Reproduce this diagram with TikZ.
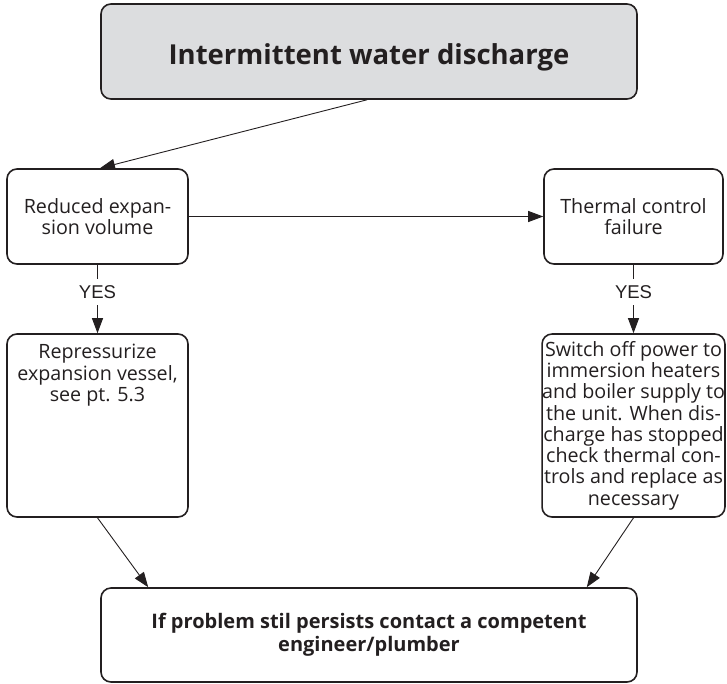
\documentclass[tikz,border=0pt]{standalone}
\usepackage{fontspec}
\setmainfont{Open Sans}
\newfontfamily\yesfont{Liberation Sans}
\usetikzlibrary{arrows.meta}
\definecolor{ink}{HTML}{231F20}
\definecolor{titlegray}{HTML}{DCDDDF}
\tikzset{
  box/.style={draw=ink, line width=1.6pt, rounded corners=10pt, minimum width=181pt, inner sep=0pt, align=center, text=ink},
  bodytext/.style={font=\fontsize{19.7}{21.3}\selectfont},
  conn/.style={draw=ink, line width=0.9pt, -{Triangle[length=15pt,width=11pt]}},
  yeslabel/.style={fill=white, inner xsep=1pt, inner ysep=6.5pt, text=ink, font=\yesfont\fontsize{18.5}{20}\selectfont, text depth=0pt}
}
\begin{document}
\begin{tikzpicture}[x=1pt,y=-1pt]
\useasboundingbox (0,0) rectangle (727,683);
\node[box, fill=titlegray, minimum width=536pt, minimum height=95pt, font=\fontsize{27.5}{30}\selectfont\bfseries, text height=25pt, text depth=0pt] (title) at (369,51.5) {Intermittent water discharge};
\node[box, bodytext, minimum height=95pt] (l1) at (97.5,216.5) {Reduced expan-\\sion volume};
\node[box, bodytext, minimum height=95pt, minimum width=179pt] (r1) at (633.5,216.5) {Thermal control\\failure};
\node[box, minimum height=183pt] (l2) at (97.5,425.5) {};
\node[bodytext, anchor=north, align=center, text=ink, inner sep=0pt] (l2t) at ([yshift=-11pt]l2.north) {Repressurize\\expansion vessel,\\see pt. 5.3};
\node[box, bodytext, minimum height=183pt, minimum width=179pt] (r2) at (633.5,425.5) {Switch off power to\\immersion heaters\\and boiler supply to\\the unit. When dis-\\charge has stopped\\check thermal con-\\trols and replace as\\necessary};
\node[box, minimum width=536pt, minimum height=94pt, font=\fontsize{20}{23}\selectfont\bfseries] (b) at (369,635) {If problem stil persists contact a competent\\engineer/plumber};
\draw[conn] ([xshift=-2pt]title.south) -- ([xshift=2.5pt]l1.north);
\draw[conn] (l1.east) -- (r1.west);
\draw[conn] (l1.south) -- node[yeslabel, pos=0.4] (yes1) {YES} (l2.north);
\draw[conn] (r1.south) -- node[yeslabel, pos=0.4] (yes2) {YES} (r2.north);
\draw[conn] (l2.south) -- ([xshift=48pt]b.north west);
\draw[conn] (r2.south) -- ([xshift=-51pt]b.north east);
\end{tikzpicture}
\end{document}
